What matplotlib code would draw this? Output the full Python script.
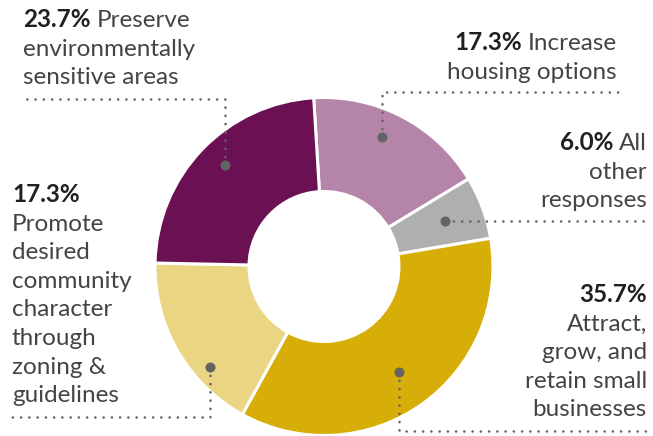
import matplotlib

matplotlib.use("Agg")
from matplotlib import pyplot as plt
import numpy as np

W, H = 653, 436

# clockwise from the top
shares = [17.3, 6.0, 35.7, 17.3, 23.7]
pct_labels = ["17.3%", "6.0%", "35.7%", "17.3%", "23.7%"]
label_lines = [
    ["Increase", "housing options"],
    ["All", "other", "responses"],
    ["", "Attract,", "grow, and", "retain small", "businesses"],
    ["", "Promote", "desired", "community", "character", "through", "zoning &", "guidelines"],
    ["Preserve", "environmentally", "sensitive areas"],
]
colors = ["#b585a9", "#afafaf", "#d6ae07", "#ead582", "#6b1052"]

# layout (pixels from the top-left): text anchor, first baseline, leader ends
text_pos = [(617, 50, "right"), (647, 150, "right"), (647, 302, "right"),
            (12, 202, "left"), (23, 27, "left")]
dot_pos = [(141.5, 3.5), (129, 0), (129, 0), (152, 11.5), (142, -2)]  # radius, angle offset
leader_y = [92.5, None, 431, 417, 99]
leader_x = [618, 647, 648, 12, 25]

LINE = 28.6
FONT = "Lato"
SIZE = 17.5
BOLD_C = "#231f20"
TEXT_C = "#444444"
DOT_C = "#636363"

fig = plt.figure(figsize=(W / 100, H / 100), dpi=100)
ax = fig.add_axes([0, 0, 1, 1])

cx, cy, R = 324, H - 266.5, 169
wedges, _ = ax.pie(
    shares, colors=colors, startangle=93.5, counterclock=False,
    center=(cx, cy), radius=R,
    wedgeprops=dict(width=94, edgecolor="white", linewidth=2.2),
)
ax.set_xlim(0, W)
ax.set_ylim(0, H)
ax.set_aspect("equal")
ax.axis("off")

for w, (r, off), ly, lx in zip(wedges, dot_pos, leader_y, leader_x):
    ang = np.deg2rad((w.theta1 + w.theta2) / 2 + off)
    dx, dy = cx + r * np.cos(ang), cy + r * np.sin(ang)
    if ly is None:
        xs, ys = [dx, lx], [dy, dy]
    else:
        xs, ys = [dx, dx, lx], [dy, H - ly, H - ly]
    ax.plot(xs, ys, color=DOT_C, lw=1.8, linestyle=(0, (0.1, 3.2)),
            dash_capstyle="round", zorder=3)
    ax.plot(dx, dy, "o", ms=7.2, color=DOT_C, mec="none", zorder=4)

renderer = fig.canvas.get_renderer()
SPACE = 6

for pct, lines, (x, y0, ha) in zip(pct_labels, label_lines, text_pos):
    for i, line in enumerate(lines):
        y = H - (y0 + i * LINE)
        if i > 0:
            ax.text(x, y, line, ha=ha, va="baseline", fontsize=SIZE,
                    family=FONT, color=TEXT_C)
            continue
        if ha == "left":
            t = ax.text(x, y, pct, ha="left", va="baseline", fontsize=SIZE,
                        family=FONT, weight="bold", color=BOLD_C)
            wpx = t.get_window_extent(renderer).width
            if line:
                ax.text(x + wpx + SPACE, y, line, ha="left", va="baseline",
                        fontsize=SIZE, family=FONT, color=TEXT_C)
        else:
            xb = x
            if line:
                t = ax.text(x, y, line, ha="right", va="baseline", fontsize=SIZE,
                            family=FONT, color=TEXT_C)
                xb = x - t.get_window_extent(renderer).width - SPACE
            ax.text(xb, y, pct, ha="right", va="baseline", fontsize=SIZE,
                    family=FONT, weight="bold", color=BOLD_C)

fig.savefig("out.png", dpi=100)
